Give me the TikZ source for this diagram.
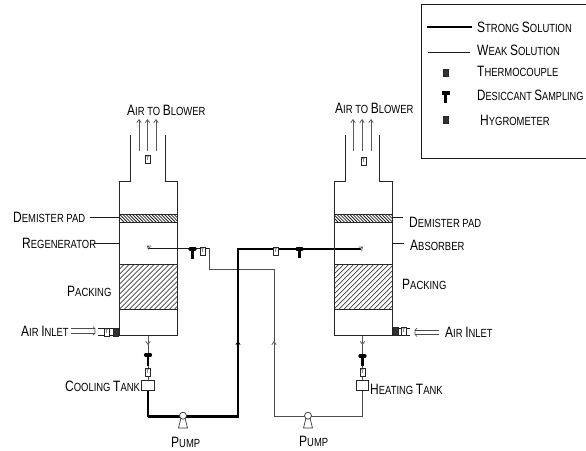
\documentclass[tikz,border=0pt]{standalone}
\usepackage{fontspec}
\setmainfont{Liberation Sans}
\newfontfamily\cadfont[FakeStretch=0.8]{Liberation Sans}
\usetikzlibrary{arrows.meta}
\newcommand{\SC}[2]{{\cadfont\fontsize{15}{15}\selectfont #1\fontsize{11.8}{15}\selectfont\MakeUppercase{#2}}}
\tikzset{
  cad/.style={inner sep=0pt,anchor=west},
  wall/.style={draw=black!85,line width=1pt},
  lead/.style={draw=black!90,line width=0.9pt},
  weak/.style={draw=black!70,line width=1pt},
  strong/.style={draw=black,line width=2.8pt},
  tip/.style={draw=black!65,line width=0.8pt,-{Straight Barb[length=3pt,width=4.5pt]}},
  sensorT/.style={draw=black!85,fill=white,line width=0.7pt,minimum width=5pt,minimum height=8pt,inner sep=0pt,font=\fontsize{5}{5}\selectfont},
  sensorH/.style={sensorT,fill=black!80},
  tank/.style={draw=black!85,fill=white,line width=0.8pt,minimum width=12.5pt,minimum height=9.5pt,inner sep=0pt},
  pumpc/.style={circle,draw=black!80,fill=white,line width=0.7pt,minimum size=7pt,inner sep=0pt},
  tstem/.style={draw=black,line width=2.4pt},
  tbar/.style={draw=black,line width=3.2pt,line cap=round},
}
\begin{document}
\begin{tikzpicture}[x=1pt,y=-1pt]
\useasboundingbox (0,0) rectangle (586,450);
\fill[white] (0,0) rectangle (586,450);

% ---------- named points
\coordinate (Lin) at (148,248);
\coordinate (Lcor) at (209,248);
\coordinate (Lcor2) at (209,269.5);
\coordinate (Wup) at (274,269.5);
\coordinate (Wdn) at (274,416.5);
\coordinate (Wtip1) at (274,346);
\coordinate (Wtip2) at (274,341);
\coordinate (Wr) at (362.5,416.5);
\coordinate (Sb) at (148,416.5);
\coordinate (Sr) at (238,416.5);
\coordinate (Su) at (238,249);
\coordinate (Se) at (361,249);
\coordinate (Stip1) at (238,346);
\coordinate (Stip2) at (238,341);
\coordinate (Lb) at (148,335);
\coordinate (Lb2) at (148,345);
\coordinate (Rb) at (362.5,335);
\coordinate (Rb2) at (362.5,345);

% ---------- pipes
\draw[lead] (Lin) -- (Lcor);
\draw[weak] (Lcor) -- (Lcor2) -- (Wup) -- (Wdn) -- (Wr);
\draw[tip] (Wtip1) -- (Wtip2);
\draw[strong,line join=miter] (Sb) -- (Sr) -- (Su) -- (Se);
\draw[tip,draw=black] (Stip1) -- (Stip2);
\draw[weak] (Lb) -- (148,381);
\draw[weak] (Rb) -- (362.5,381);
\draw[tip] (Lb) -- (Lb2);
\draw[tip] (Rb) -- (Rb2);
\draw[tip] (150,248) -- (147,245.5);
\draw[tip] (360,249) -- (363,246.5);

% ---------- regenerator
\draw[wall] (130.5,135) -- (130.5,181) -- (119.5,181) -- (119.5,335) -- (177.5,335) -- (177.5,181) -- (165,181) -- (165,135);
\begin{scope}
\clip (119.5,214) rectangle (177.5,222);
\foreach \i in {0,3.2,...,70} \draw[line width=0.8pt,black!85] (116+\i,214) -- (124+\i,222);
\end{scope}
\draw[wall] (119.5,214) rectangle (177.5,222);
\begin{scope}
\clip (119.5,264) rectangle (177.5,309);
\foreach \i in {0,5,...,110} \draw[line width=0.7pt,black!75] (119.5+\i-45,309) -- (119.5+\i,264);
\end{scope}
\draw[wall] (119.5,264) rectangle (177.5,309);

% ---------- absorber
\draw[wall] (345.5,135) -- (345.5,181) -- (334,181) -- (334,335) -- (392,335) -- (392,181) -- (379.5,181) -- (379.5,135);
\begin{scope}
\clip (334,214) rectangle (392,222);
\foreach \i in {0,3.2,...,70} \draw[line width=0.8pt,black!85] (330+\i,214) -- (338+\i,222);
\end{scope}
\draw[wall] (334,214) rectangle (392,222);
\begin{scope}
\clip (334,264) rectangle (392,309);
\foreach \i in {0,5,...,110} \draw[line width=0.7pt,black!75] (334+\i-45,309) -- (334+\i,264);
\end{scope}
\draw[wall] (334,264) rectangle (392,309);

% ---------- air arrows at blowers
\foreach \x in {139,147.5,156,353,362,371} \draw[tip] (\x,151) -- (\x,119);

% ---------- air inlets
\draw[weak] (71,328.5) -- (95,328.5);
\draw[weak] (71,333) -- (95,333);
\draw[draw=black!70,line width=0.7pt] (93,326.5) -- (95,328.5) -- (95,333) -- (93,335);
\draw[lead] (98,328) -- (119.5,328);
\draw[lead] (98,335) -- (119.5,335);
\draw[weak] (439,330) -- (415,330);
\draw[weak] (439,334.5) -- (415,334.5);
\draw[draw=black!70,line width=0.7pt] (417,328) -- (415,330) -- (415,334.5) -- (417,336.5);
\draw[lead] (392,328) -- (410,328);
\draw[lead] (392,335) -- (410,335);

% ---------- leader lines
\coordinate (Ld1) at (90,217);
\coordinate (Ld1e) at (119.5,217);
\coordinate (Ld2) at (94,243);
\coordinate (Ld2e) at (119.5,243);
\coordinate (Ld3) at (392,217);
\coordinate (Ld3e) at (403,217);
\coordinate (Ld4) at (392,243);
\coordinate (Ld4e) at (404,243);
\draw[lead] (Ld1) -- (Ld1e);
\draw[lead] (Ld2) -- (Ld2e);
\draw[lead] (Ld3) -- (Ld3e);
\draw[lead] (Ld4) -- (Ld4e);

% ---------- tanks
\node[tank] (cool) at (148,385.5) {};
\node[tank] (heat) at (362.5,385.5) {};
\draw[strong] (cool.south) -- (Sb);
\draw[weak] (heat.south) -- (Wr);

% ---------- pumps
\foreach \n/\x in {pa/183,pb/308}{
  \draw[draw=black!80,line width=0.7pt,fill=white] (\x-2,418) -- (\x-4.5,428) -- (\x+4.5,428) -- (\x+2,418) -- cycle;
  \node[pumpc] (\n) at (\x,415.7) {};
}

% ---------- T sampling points
\foreach \n/\x/\ya/\yb in {ta/192.5/249/259,tb/299.5/249/258,tc/148/355/366,td/362.5/356/366}{
  \coordinate (\n) at (\x,\ya);
  \draw[tstem] (\n) -- (\x,\yb);
  \draw[tbar] ([xshift=-2.5pt]\n) -- ([xshift=2.5pt]\n);
}

% ---------- sensors
\node[sensorT] (s1) at (148,159) {T};
\node[sensorT] (s2) at (363.5,161) {T};
\node[sensorT] (s3) at (202.5,251) {T};
\node[sensorT] (s4) at (276,251) {T};
\node[sensorT] (s5) at (148,372) {T};
\node[sensorT] (s6) at (362.5,372) {T};
\node[sensorT] (s7) at (107,332) {T};
\node[sensorH] (s8) at (116,332) {};
\node[sensorH] (s9) at (396,331) {};
\node[sensorT] (s10) at (404,331) {T};

% ---------- labels
\node[cad] (a1) at (127,110) {\SC{A}{ir to }\SC{B}{lower}};
\node[cad] (a2) at (335,108) {\SC{A}{ir to }\SC{B}{lower}};
\node[cad] (d1) at (13,217) {\SC{D}{emister pad}};
\node[cad] (r1) at (22,243) {\SC{R}{egenerator}};
\node[cad] (p1) at (67,291) {\SC{P}{acking}};
\node[cad] (i1) at (21,331) {\SC{A}{ir }\SC{I}{nlet}};
\node[cad] (c1) at (65,386) {\SC{C}{ooling }\SC{T}{ank}};
\node[cad] (u1) at (171,442) {\SC{P}{ump}};
\node[cad] (d2) at (409,222) {\SC{D}{emister pad}};
\node[cad] (b2) at (410,245) {\SC{A}{bsorber}};
\node[cad] (p2) at (402,284) {\SC{P}{acking}};
\node[cad] (i2) at (445,332) {\SC{A}{ir }\SC{I}{nlet}};
\node[cad] (h2) at (370,389) {\SC{H}{eating }\SC{T}{ank}};
\node[cad] (u2) at (299,441) {\SC{P}{ump}};

% ---------- legend
\draw[draw=black!90,line width=1pt,fill=white] (421,4.5) -- (590,4.5) -- (590,158.5) -- (421,158.5) -- cycle;
\coordinate (k1) at (427,27);
\coordinate (k1e) at (472,27);
\coordinate (k2) at (428,52);
\coordinate (k2e) at (470,52);
\draw[strong,line width=2.2pt] (k1) -- (k1e);
\draw[lead] (k2) -- (k2e);
\node[sensorH,minimum width=5pt,minimum height=7pt] (k3) at (446,73) {};
\coordinate (k4) at (445.5,93);
\draw[tstem] (k4) -- (445.5,103);
\draw[tbar,line cap=butt] ([xshift=-4pt]k4) -- ([xshift=4pt]k4);
\node[sensorH,minimum width=5pt,minimum height=7pt] (k5) at (446,120) {};
\node[cad] (t1) at (477,27) {\SC{S}{trong }\SC{S}{olution}};
\node[cad] (t2) at (477,50) {\SC{W}{eak }\SC{S}{olution}};
\node[cad] (t3) at (477,71) {\SC{T}{hermocouple}};
\node[cad,xscale=0.97] (t4) at (477,95) {\SC{D}{esiccant }\SC{S}{ampling}};
\node[cad] (t5) at (480,120) {\SC{H}{ygrometer}};
\end{tikzpicture}
\end{document}
